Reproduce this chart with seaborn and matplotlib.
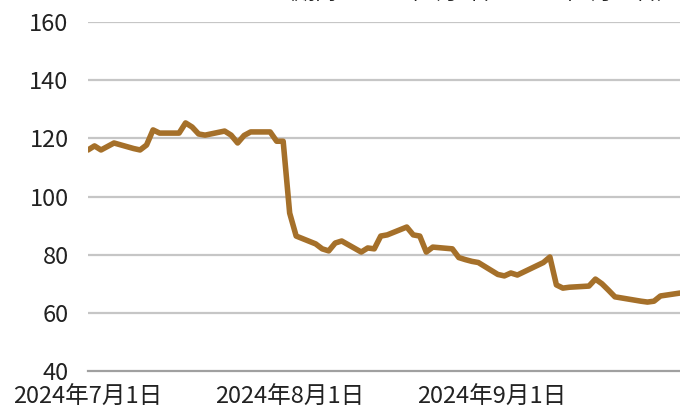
import matplotlib
matplotlib.use("Agg")
import matplotlib.pyplot as plt
import seaborn as sns
import pandas as pd

dates = [
    "2024-07-01", "2024-07-02", "2024-07-03", "2024-07-05", "2024-07-08", "2024-07-09",
    "2024-07-10", "2024-07-11", "2024-07-12", "2024-07-15", "2024-07-16", "2024-07-17",
    "2024-07-18", "2024-07-19", "2024-07-22", "2024-07-23", "2024-07-24", "2024-07-25",
    "2024-07-26", "2024-07-29", "2024-07-30", "2024-07-31", "2024-08-01", "2024-08-02",
    "2024-08-05", "2024-08-06", "2024-08-07", "2024-08-08", "2024-08-09", "2024-08-12",
    "2024-08-13", "2024-08-14", "2024-08-15", "2024-08-16", "2024-08-19", "2024-08-20",
    "2024-08-21", "2024-08-22", "2024-08-23", "2024-08-26", "2024-08-27", "2024-08-28",
    "2024-08-29", "2024-08-30", "2024-09-02", "2024-09-03", "2024-09-04", "2024-09-05",
    "2024-09-09", "2024-09-10", "2024-09-11", "2024-09-12", "2024-09-13", "2024-09-16",
    "2024-09-17", "2024-09-18", "2024-09-19", "2024-09-20", "2024-09-24", "2024-09-25",
    "2024-09-26", "2024-09-27", "2024-09-30",
]
values = [
    116.0, 117.4, 116.0, 118.4, 116.5, 116.0,
    117.7, 122.9, 121.8, 121.8, 125.3, 123.9,
    121.5, 121.1, 122.5, 121.1, 118.4, 121.0,
    122.2, 122.2, 119.0, 119.0, 94.3, 86.4,
    83.7, 82.0, 81.3, 84.0, 84.7, 80.9,
    82.3, 82.0, 86.4, 86.8, 89.5, 86.8,
    86.4, 80.9, 82.6, 82.0, 79.0, 78.3,
    77.7, 77.3, 73.2, 72.7, 73.7, 73.0,
    77.3, 79.2, 69.6, 68.5, 68.8, 69.2,
    71.6, 70.0, 67.8, 65.5, 64.0, 63.7,
    64.0, 65.8, 66.8,
]
y_ticks = [40, 60, 80, 100, 120, 140, 160]
x_ticks = ["2024-07-01", "2024-08-01", "2024-09-01"]
x_tick_labels = ["2024年7月1日", "2024年8月1日", "2024年9月1日"]
note_text = "（期間：2024年7月1日～2024年9月30日）"

df = pd.DataFrame({"date": pd.to_datetime(dates), "value": values})

sns.set_style("white")
plt.rcParams["font.family"] = ["Noto Sans CJK JP", "DejaVu Sans"]

fig = plt.figure(figsize=(6.8, 4.09), dpi=100)
ax = fig.add_axes([88 / 680, 38 / 409, 1 - 88 / 680, 349 / 409])

for yv in y_ticks[1:]:
    ax.axhline(yv, color="#c6c6c6", lw=1.6, zorder=1)

sns.lineplot(data=df, x="date", y="value", ax=ax, color="#a5702a", lw=4.0,
             zorder=3, solid_joinstyle="round")

ax.set_ylim(40, 160)
ax.set_xlim(pd.Timestamp("2024-07-01"), pd.Timestamp("2024-09-30"))
ax.set_yticks(y_ticks)
ax.set_yticklabels([str(v) for v in y_ticks], fontsize=17, color="#222222")
ax.set_xticks(pd.to_datetime(x_ticks))
ax.set_xticklabels(x_tick_labels, fontsize=17, color="#222222")
ax.tick_params(axis="y", length=0, pad=14)
ax.tick_params(axis="x", length=7, width=1.5, color="#a0a0a0", pad=4, direction="out")
ax.set_xlabel("")
ax.set_ylabel("")

for s in ["top", "right", "left"]:
    ax.spines[s].set_visible(False)
ax.spines["bottom"].set_color("#a0a0a0")
ax.spines["bottom"].set_linewidth(1.6)

fig.text(678 / 680, 1 + 1.0 / 409, note_text, ha="right", va="baseline",
         fontsize=15.2, color="#222222")

fig.savefig("out.png", dpi=100)
